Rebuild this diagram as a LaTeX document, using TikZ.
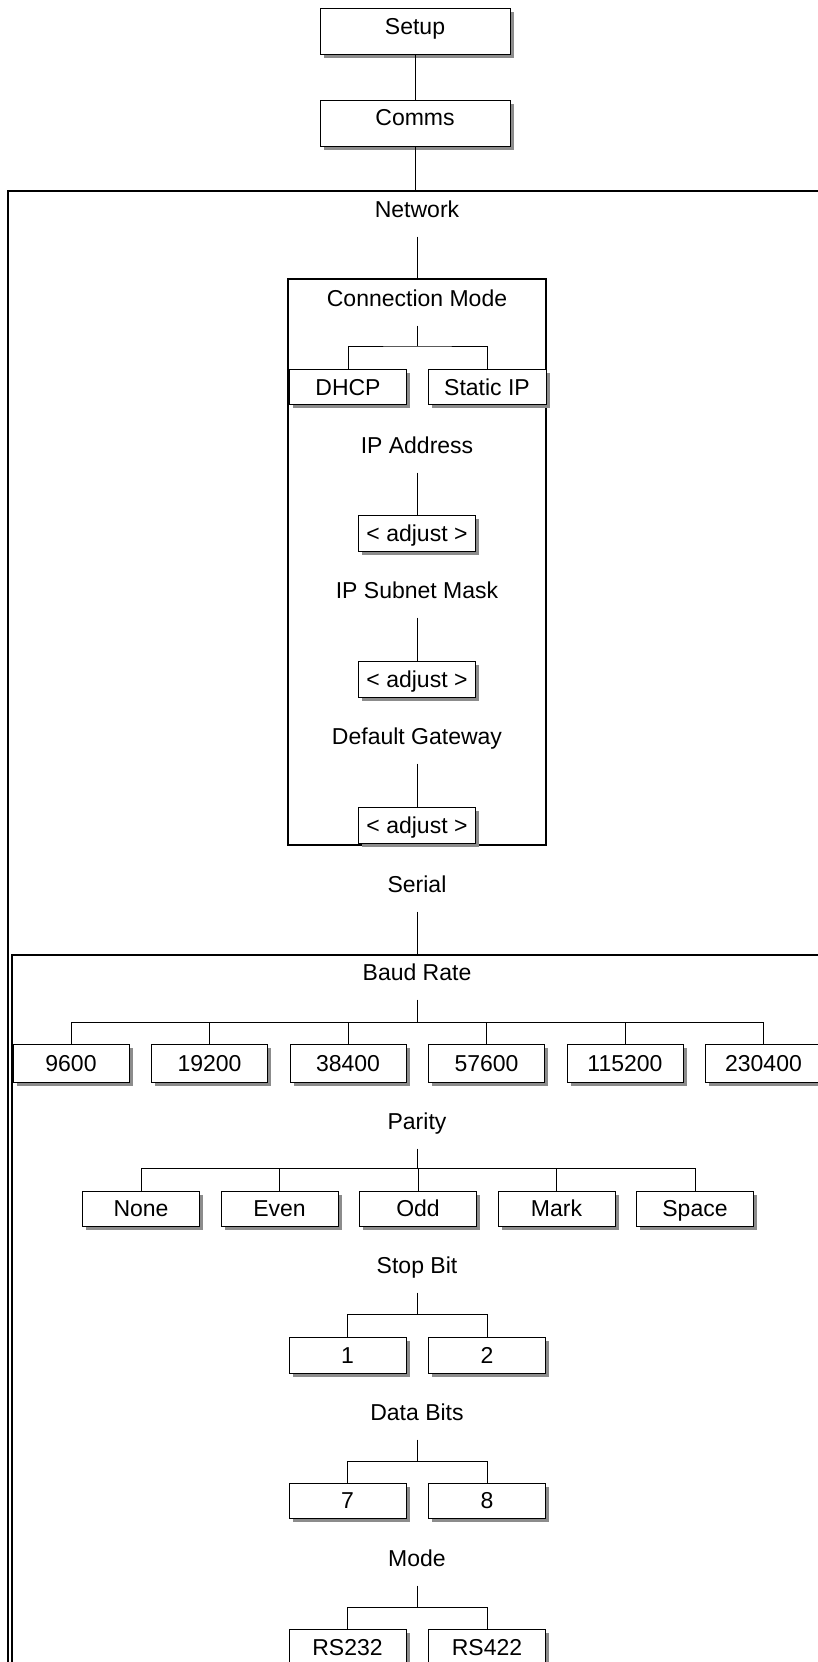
\documentclass[tikz,border=0pt]{standalone}
\usepackage{fontspec}
\setmainfont{Liberation Sans}
\usetikzlibrary{shadows}

\begin{document}
\begin{tikzpicture}[
    x=1pt, y=-1pt,
    every node/.style={font=\fontsize{23}{26}\selectfont},
    menubox/.style={draw, fill=white, line width=1pt, inner sep=0pt,
        minimum width=190pt, minimum height=46pt, text height=16.5pt, text depth=12pt,
        drop shadow={shadow xshift=3.5pt, shadow yshift=-3.5pt, fill=black!45, opacity=1}},
    optbox/.style={menubox, minimum width=117pt, minimum height=35pt, text depth=0pt},
    heading/.style={inner sep=0pt, minimum height=55pt, text height=16.5pt, text depth=0pt},
    frame/.style={draw, line width=1.4pt, inner sep=0pt},
    link/.style={line width=1pt}
]

\useasboundingbox (0,0) rectangle (818,1662);
\clip (0,0) rectangle (818,1662);

% =========================================================
% Frames
% =========================================================

\node[frame, minimum width=832pt, minimum height=1509pt] (commsframe) at (424,945.5) {};
\node[frame, minimum width=258pt, minimum height=566pt] (ipframe) at (417,562) {};
\node[frame, minimum width=828pt, minimum height=745pt] (serialframe) at (426,1327.5) {};


% =========================================================
% Setup / Comms
% =========================================================

\node[menubox] (setup) at (415,32) {Setup};
\node[menubox] (comms) at (415,123) {Comms};

\draw[link] (setup) -- (comms);
\draw[link] (comms) -- (comms |- commsframe.north);


% =========================================================
% Network
% =========================================================

\node[heading] (network) at (417,209) {Network};
\draw[link] (network) -- (network |- ipframe.north);

\node[heading] (connmode) at (417,298) {Connection Mode};
\coordinate (connj) at (417,346);
\node[optbox] (dhcp) at (348,387) {DHCP};
\node[optbox, minimum width=118pt] (staticip) at (487,387) {Static IP};

\draw[link] (connmode) -- (connj);
\draw[link] (dhcp) |- (connj) -| (staticip);

\node[heading] (ipaddr) at (417,445) {IP Address};
\node[optbox, minimum height=36pt] (ipadjust) at (417,533) {< adjust >};
\draw[link] (ipaddr) -- (ipadjust);

\node[heading] (subnet) at (417,590) {IP Subnet Mask};
\node[optbox, minimum height=36pt] (subnetadjust) at (417,679.5) {< adjust >};
\draw[link] (subnet) -- (subnetadjust);

\node[heading] (gateway) at (417,736) {Default Gateway};
\node[optbox, minimum height=36pt] (gatewayadjust) at (417,825.5) {< adjust >};
\draw[link] (gateway) -- (gatewayadjust);


% =========================================================
% Serial
% =========================================================

\node[heading] (serial) at (417,884) {Serial};
\draw[link] (serial) -- (serial |- serialframe.north);


% =========================================================
% Baud Rate
% =========================================================

\node[heading] (baud) at (417,972) {Baud Rate};
\coordinate (baudj) at (417,1022);

\node[optbox, minimum width=116pt, minimum height=38pt] (b9600) at (71,1063) {9600};
\node[optbox, minimum width=116pt, minimum height=38pt] (b19200) at (209.5,1063) {19200};
\node[optbox, minimum width=116pt, minimum height=38pt] (b38400) at (348,1063) {38400};
\node[optbox, minimum width=116pt, minimum height=38pt] (b57600) at (486.5,1063) {57600};
\node[optbox, minimum width=116pt, minimum height=38pt] (b115200) at (625,1063) {115200};
\node[optbox, minimum width=116pt, minimum height=38pt] (b230400) at (763.5,1063) {230400};

\draw[link] (baud) -- (baudj);
\draw[link] (b9600) |- (baudj) -| (b230400);
\draw[link] (b19200) -- (b19200 |- baudj);
\draw[link] (b38400) -- (b38400 |- baudj);
\draw[link] (b57600) -- (b57600 |- baudj);
\draw[link] (b115200) -- (b115200 |- baudj);


% =========================================================
% Parity
% =========================================================

\node[heading] (parity) at (417,1121) {Parity};
\coordinate (parityj) at (417,1168);

\node[optbox] (none) at (141,1208.5) {None};
\node[optbox] (even) at (279.5,1208.5) {Even};
\node[optbox] (odd) at (418,1208.5) {Odd};
\node[optbox] (mark) at (556.5,1208.5) {Mark};
\node[optbox] (space) at (695,1208.5) {Space};

\draw[link] (parity) -- (parityj);
\draw[link] (none) |- (parityj) -| (space);
\draw[link] (even) -- (even |- parityj);
\draw[link] (odd) -- (odd |- parityj);
\draw[link] (mark) -- (mark |- parityj);


% =========================================================
% Stop Bit
% =========================================================

\node[heading] (stopbit) at (417,1265) {Stop Bit};
\coordinate (stopj) at (417,1314);

\node[optbox, minimum height=36pt] (stop1) at (347.5,1355) {1};
\node[optbox, minimum height=36pt] (stop2) at (487,1355) {2};

\draw[link] (stopbit) -- (stopj);
\draw[link] (stop1) |- (stopj) -| (stop2);


% =========================================================
% Data Bits
% =========================================================

\node[heading] (databits) at (417,1412) {Data Bits};
\coordinate (dataj) at (417,1461.5);

\node[optbox] (data7) at (347.5,1500.5) {7};
\node[optbox] (data8) at (487,1500.5) {8};

\draw[link] (databits) -- (dataj);
\draw[link] (data7) |- (dataj) -| (data8);


% =========================================================
% Mode
% =========================================================

\node[heading] (mode) at (417,1558) {Mode};
\coordinate (modej) at (417,1607);

\node[optbox, minimum height=36pt] (rs232) at (347.5,1647) {RS232};
\node[optbox, minimum height=36pt] (rs422) at (487,1647) {RS422};

\draw[link] (mode) -- (modej);
\draw[link] (rs232) |- (modej) -| (rs422);

\end{tikzpicture}
\end{document}
